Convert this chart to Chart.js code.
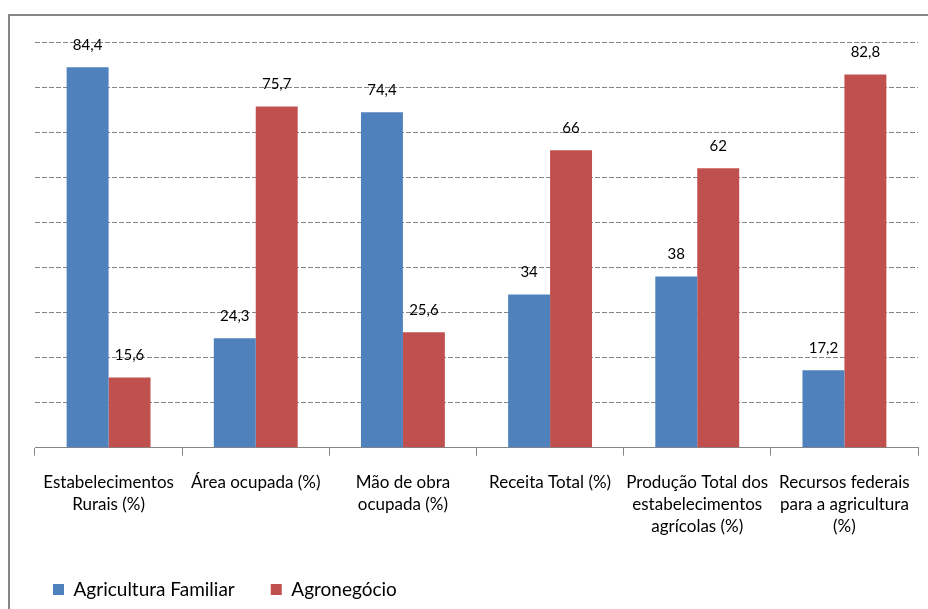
<!DOCTYPE html>
<html>
<head>
<meta charset="utf-8">
<script src="https://cdn.jsdelivr.net/npm/chart.js@4"></script>
<style>
  html, body { margin: 0; padding: 0; background: #fff; }
  #wrap { width: 928px; height: 609px; position: relative; }
</style>
</head>
<body>
<div id="wrap"><canvas id="grafico"></canvas></div>
<script>
const categorias = [
    ['Estabelecimentos', 'Rurais (%)'],
    ['Área ocupada (%)'],
    ['Mão de obra', 'ocupada (%)'],
    ['Receita Total (%)'],
    ['Produção Total dos', 'estabelecimentos', 'agrícolas (%)'],
    ['Recursos federais', 'para a agricultura', '(%)']
];
const agriculturaFamiliar = [84.4, 24.3, 74.4, 34, 38, 17.2];
const agronegocio = [15.6, 75.7, 25.6, 66, 62, 82.8];

const fonte = 'Lato, "Open Sans", sans-serif';

// moldura cinza (esquerda e topo)
const moldura = {
    id: 'moldura',
    afterDraw(chart) {
        const c = chart.ctx;
        c.save();
        c.strokeStyle = '#868686';
        c.lineWidth = 2;
        c.beginPath();
        c.moveTo(9, 609);
        c.lineTo(9, 15);
        c.lineTo(928, 15);
        c.stroke();
        c.restore();
    }
};

// valores em cima das barras
const rotulos = {
    id: 'rotulos',
    afterDatasetsDraw(chart) {
        const c = chart.ctx;
        c.save();
        c.fillStyle = '#000';
        c.font = '15px ' + fonte;
        c.textAlign = 'center';
        c.textBaseline = 'middle';
        chart.data.datasets.forEach((ds, i) => {
            chart.getDatasetMeta(i).data.forEach((bar, j) => {
                const txt = String(ds.data[j]).replace('.', ',');
                c.fillText(txt, bar.x, bar.y - 22);
            });
        });
        c.restore();
    }
};

const ctx = document.getElementById('grafico').getContext('2d');

new Chart(ctx, {
    type: 'bar',
    data: {
        labels: categorias,
        datasets: [{
            label: 'Agricultura Familiar',
            data: agriculturaFamiliar,
            backgroundColor: '#4f81bd',
            categoryPercentage: 0.57,
            barPercentage: 1
        }, {
            label: 'Agronegócio',
            data: agronegocio,
            backgroundColor: '#c0504d',
            categoryPercentage: 0.57,
            barPercentage: 1
        }]
    },
    options: {
        responsive: true,
        maintainAspectRatio: false,
        animation: false,
        layout: {
            padding: { left: 17, right: 10, top: 42, bottom: 0 }
        },
        scales: {
            x: {
                afterFit(scale) { scale.height -= 10; },
                grid: {
                    offset: true,
                    drawOnChartArea: false,
                    drawTicks: true,
                    tickLength: 8,
                    color: '#868686'
                },
                border: { color: '#868686', width: 1 },
                ticks: {
                    color: '#000',
                    font: { family: fonte, size: 17, lineHeight: 1.3 },
                    padding: 16,
                    maxRotation: 0,
                    autoSkip: false
                }
            },
            y: {
                min: 0,
                max: 90,
                afterFit(scale) { scale.width = 18; },
                ticks: { display: false, stepSize: 10 },
                border: { display: false, dash: [5, 2] },
                grid: {
                    color: '#868686',
                    drawTicks: false,
                    lineWidth: 1
                }
            }
        },
        plugins: {
            legend: {
                position: 'bottom',
                align: 'start',
                labels: {
                    color: '#000',
                    font: { family: fonte, size: 19 },
                    boxWidth: 11,
                    boxHeight: 11,
                    padding: 36
                }
            },
            tooltip: { enabled: false }
        }
    },
    plugins: [moldura, rotulos]
});
</script>
</body>
</html>
